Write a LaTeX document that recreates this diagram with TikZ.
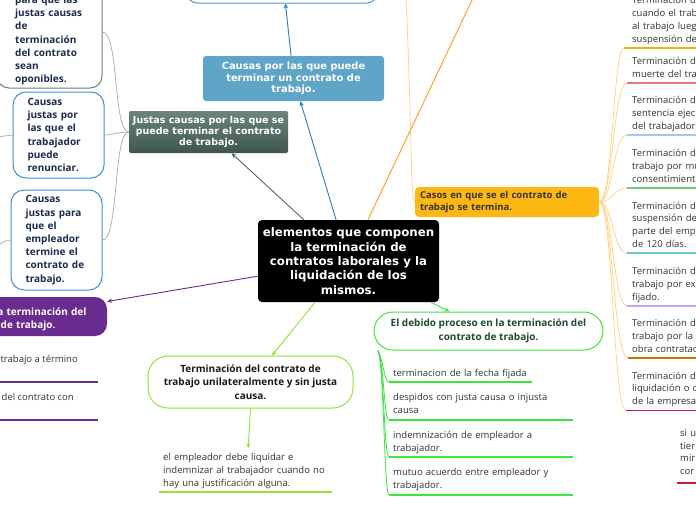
\documentclass[tikz,border=0pt]{standalone}
\usepackage{fontspec}
\setmainfont{Open Sans}
\newfontfamily\dvs{DejaVu Sans}
\usetikzlibrary{arrows.meta}
\definecolor{cblue}{HTML}{5FA5C8}
\definecolor{cbluel}{HTML}{2B7DB8}
\definecolor{topblue}{HTML}{4A9BD6}
\definecolor{jtop}{HTML}{6C857A}
\definecolor{jbot}{HTML}{3F564B}
\definecolor{agray}{HTML}{6E8179}
\definecolor{bblue}{HTML}{3A8FDA}
\definecolor{navy}{HTML}{1B2A4E}
\definecolor{slate}{HTML}{506C62}
\definecolor{gline}{HTML}{A3ACA8}
\definecolor{purp}{HTML}{6A2C8E}
\definecolor{lgreen}{HTML}{8FE33A}
\definecolor{bgreen}{HTML}{3DE63D}
\definecolor{dgreen}{HTML}{1E4B2E}
\definecolor{orangeA}{HTML}{FFA22B}
\definecolor{lorange}{HTML}{FFD48A}
\definecolor{casosc}{HTML}{FDB813}
\definecolor{txt}{HTML}{333333}
\definecolor{uA}{HTML}{F5B400}
\definecolor{uB}{HTML}{E07B6E}
\definecolor{uC}{HTML}{9CCBEB}
\definecolor{uD}{HTML}{6ECF6E}
\definecolor{uE}{HTML}{6CC7C3}
\definecolor{uF}{HTML}{C5A8EE}
\definecolor{uG}{HTML}{C77700}
\definecolor{uH}{HTML}{C41E3A}
\begin{document}
\begin{tikzpicture}[x=1pt,y=-1pt,
  arr/.style={line width=0.9pt,-{Stealth[length=5pt,width=4.5pt]}},
  gcon/.style={draw=gline,line width=0.7pt},
  bgcon/.style={draw=bgreen,line width=0.8pt},
  locon/.style={draw=lorange,line width=0.8pt},
  itemtext/.style={anchor=base west,inner sep=0pt,text width=150pt,align=left,font=\fontsize{9.5}{12.7}\selectfont,text=txt},
  plaintext/.style={anchor=base west,inner sep=0pt,text width=200pt,align=left,font=\fontsize{9.5}{12.5}\selectfont,text=txt},
  boxtext/.style={inner sep=0pt,align=left,font=\bfseries\fontsize{10}{13.2}\selectfont,text=navy},
  uline/.style={line width=1.5pt}
]
\useasboundingbox (0,0) rectangle (696,520);
\fill[white] (0,0) rectangle (696,520);

% ---------- main nodes ----------
\node[fill=black,rounded corners=4pt,minimum width=181pt,minimum height=82pt,inner sep=0pt,
  text=white,align=center,font=\dvs\bfseries\fontsize{11.8}{14.3}\selectfont] (central) at (348.5,261)
  {elementos que componen\\la terminación de\\contratos laborales y la\\liquidación de los\\mismos.};

\node[draw=topblue,line width=1pt,rounded corners=10pt,minimum width=190pt,minimum height=63pt,fill=white] (topbox) at (282,-28.5) {};

\node[fill=cblue,rounded corners=3pt,minimum width=181pt,minimum height=45pt,inner sep=0pt,
  text=white,align=center,font=\dvs\bfseries\fontsize{9.9}{11.7}\selectfont] (causas) at (293.5,78.5)
  {Causas por las que puede\\terminar un contrato de\\trabajo.};

\node[top color=jtop,bottom color=jbot,rounded corners=2pt,minimum width=159pt,minimum height=42pt,inner sep=0pt,
  text=white,align=center,font=\dvs\bfseries\fontsize{9.5}{11}\selectfont] (justas) at (208.5,132)
  {Justas causas por las que se\\puede terminar el contrato\\de trabajo.};

% left children of Justas
\node[draw=agray,line width=1pt,rounded corners=12pt,minimum width=105pt,minimum height=112pt,fill=white] (abox) at (49.5,32) {};
\node[boxtext,anchor=base west,text width=80pt] (atext) at (15,3.5)
  {para que las\\justas causas\\de\\terminación\\del contrato\\sean\\oponibles.};
\node[draw=bblue,line width=1pt,rounded corners=13pt,minimum width=91pt,minimum height=86pt,boxtext,text width=62pt] (bbox) at (58.5,135)
  {Causas\\justas por\\las que el\\trabajador\\puede\\renunciar.};
\node[draw=bblue,line width=1pt,rounded corners=13pt,minimum width=91pt,minimum height=100pt,boxtext,text width=62pt] (cbox) at (56.5,240)
  {Causas\\justas para\\que el\\empleador\\termine el\\contrato de\\trabajo.};

\draw[gcon] (justas.west) .. controls (113,132) and (119,32) .. (abox.east);
\draw[gcon] (justas.west) .. controls (118,132) and (112,135) .. (bbox.east);
\draw[gcon] (justas.west) .. controls (113,132) and (119,240) .. (cbox.east);
\coordinate (bleft) at (-12,138);
\coordinate (cleft) at (-12,252);
\draw[gcon] (bbox.west) -- (bleft);
\draw[gcon] (cbox.west) .. controls (3,240) and (0,246) .. (cleft);

% purple node
\node[fill=purp,rounded corners=12pt,minimum width=180pt,minimum height=39pt] (purple) at (17,316.5) {};
\node[anchor=base west,inner sep=0pt,text width=150pt,align=left,font=\bfseries\fontsize{10}{13}\selectfont,text=white] (purpletext) at (-46,315.5)
  {\hspace*{40pt}la terminación del\\contrato de trabajo.};
\node[anchor=base east,inner sep=0pt,font=\fontsize{9.5}{12.5}\selectfont,text=txt] (pc1) at (78,362.5) {trabajo a término};
\node[anchor=base east,inner sep=0pt,font=\fontsize{9.5}{12.5}\selectfont,text=txt] (pc2) at (74,400.5) {del contrato con};
\coordinate (pu1) at (-10,382);
\coordinate (pu2) at (-10,420);
\draw[purp,uline] (pu1) -- (98,382);
\draw[purp,uline] (pu2) -- (98,420);

% unilateral node
\node[draw=lgreen,line width=1pt,rounded corners=20pt,minimum width=205pt,minimum height=52pt,inner sep=0pt,
  align=center,font=\bfseries\fontsize{10}{13.3}\selectfont,text=black!90] (uni) at (250.5,382)
  {Terminación del contrato de\\trabajo unilateralmente y sin justa\\causa.};
\node[plaintext,text width=170pt,font=\fontsize{9.5}{13}\selectfont] (unichild) at (163,460.5)
  {el empleador debe liquidar e\\indemnizar al trabajador cuando no\\hay una justificación alguna.};
\draw[lgreen,uline] (159,492) -- (332,492);
\draw[arr,draw=lgreen] (uni.south) -- ([yshift=5pt]unichild.north);

% debido proceso
\node[draw=bgreen,line width=1pt,rounded corners=19pt,minimum width=229pt,minimum height=38pt,inner sep=0pt,
  align=center,font=\bfseries\fontsize{10}{14}\selectfont,text=dgreen] (debido) at (488.5,331)
  {El debido proceso en la terminación del\\contrato de trabajo.};
\node[plaintext] (d1) at (393,376.5) {terminacion de la fecha fijada};
\node[plaintext] (d2) at (393,400.5) {despidos con justa causa o injusta\\causa};
\node[plaintext] (d3) at (393,438.5) {indemnización de empleador a\\trabajador.};
\node[plaintext] (d4) at (393,475.5) {mutuo acuerdo entre empleador y\\trabajador.};
\coordinate (du1) at (389,382);
\coordinate (du2) at (389,420);
\coordinate (du3) at (389,457);
\coordinate (du4) at (389,495);
\draw[bgreen,uline] (du1) -- (532,382);
\draw[bgreen,uline] (du2) -- (573,420);
\draw[bgreen,uline] (du3) -- (573,457);
\draw[bgreen,uline] (du4) -- (573,495);
\foreach \u/\yy in {du1/382,du2/420,du3/457,du4/495}
  \draw[bgcon] (debido.190) .. controls (384,362) and (384,\yy) .. (\u);

% casos node
\node[fill=casosc,rounded corners=4pt,minimum width=184pt,minimum height=30pt,inner sep=0pt,
  text width=174pt,align=left,font=\bfseries\fontsize{9.5}{12}\selectfont,text=txt] (casos) at (507,202)
  {Casos en que se el contrato de\\trabajo se termina.};
\coordinate (casospar) at (405,-20);
\draw[locon] (casos.west) .. controls (410,200) and (412,110) .. (casospar);

% central connectors
\coordinate (orangepar) at (496.7,-52);
\draw[line width=1pt,draw=orangeA] (central) -- (orangepar);
\draw[arr,draw=slate] (central) -- (justas);
\draw[arr,draw=cbluel] (central) -- (causas);
\draw[arr,draw=cbluel] (causas) -- (topbox);
\draw[arr,draw=purp] (central) -- (purple);
\draw[arr,draw=lgreen] (central) -- (uni);
\draw[arr,draw=bgreen] (central) -- (debido);

% right items
\coordinate (u1) at (624,48);
\coordinate (u2) at (627,83);
\coordinate (u3) at (627,135);
\coordinate (u4) at (627,188);
\coordinate (u5) at (627,253);
\coordinate (u6) at (627,306);
\coordinate (u7) at (628,358);
\coordinate (u8) at (626,410.5);
\coordinate (u9) at (677,483);
\foreach \u/\yy in {u1/48,u2/83,u3/135,u4/188,u5/253,u6/306,u7/358,u8/410.5}
  \draw[locon] (casos.east) .. controls (613,202) and (613,\yy) .. (\u);
\draw[uA,uline] (u1) -- (700,48);
\draw[uB,uline] (u2) -- (700,83);
\draw[uC,uline] (u3) -- (700,135);
\draw[uD,uline] (u4) -- (700,188);
\draw[uE,uline] (u5) -- (700,253);
\draw[uF,uline] (u6) -- (700,306);
\draw[uG,uline] (u7) -- (700,358);
\draw[uH,uline] (u8) -- (700,410.5);
\draw[uH,uline] (u9) -- (700,483);

\node[itemtext] (it1) at (632,3.9) {Terminación del\\cuando el trabajador\\al trabajo luego\\suspensión del};
\node[itemtext] (it2) at (632,64.3) {Terminación del\\muerte del trabajador};
\node[itemtext] (it3) at (632,103.6) {Terminación del\\sentencia ejecutoriada\\del trabajador};
\node[itemtext] (it4) at (632,156.6) {Terminación del\\trabajo por mutuo\\consentimiento};
\node[itemtext] (it5) at (632,209) {Terminación del\\suspensión de\\parte del empleador\\de 120 días.};
\node[itemtext] (it6) at (632,274.6) {Terminación del\\trabajo por expiración\\fijado.};
\node[itemtext] (it7) at (632,326.6) {Terminación del\\trabajo por la\\obra contratada};
\node[itemtext] (it8) at (632,379.1) {Terminación del\\liquidación o clausura\\de la empresa};
\node[itemtext] (it9) at (680,436.5) {si u\\tier\\mir\\cor};
\end{tikzpicture}
\end{document}
